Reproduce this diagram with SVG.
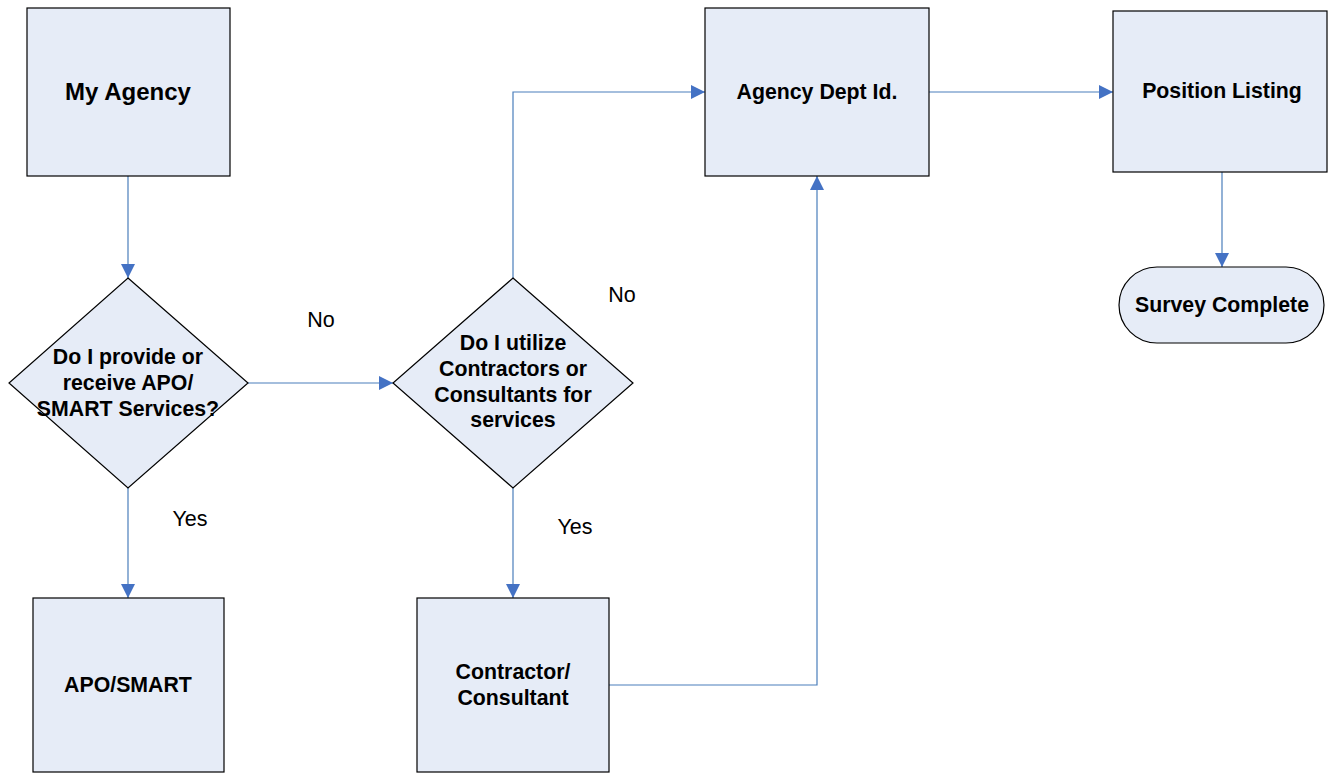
<svg xmlns="http://www.w3.org/2000/svg" width="1330" height="774" viewBox="0 0 1330 774">
<style>
.box{fill:#E6ECF7;stroke:#000;stroke-width:1.2}
.t{font-family:"Liberation Sans",Arial,sans-serif;font-weight:bold;font-size:21.3px;fill:#000;text-anchor:middle}
.l{font-family:"Liberation Sans",Arial,sans-serif;font-size:21.5px;fill:#000;text-anchor:middle}
.c{fill:none;stroke:#4A7EBB;stroke-width:1.2;marker-end:url(#ah)}
</style>
<defs>
<marker id="ah" viewBox="0 0 10 10" refX="10" refY="5" markerWidth="14" markerHeight="14" markerUnits="userSpaceOnUse" orient="auto">
<path d="M0,0 L10,5 L0,10 z" fill="#4472C4"/>
</marker>
</defs>
<rect width="1330" height="774" fill="#fff"/>
<g id="connectors">
<path class="c" d="M128,176 V278"/>
<path class="c" d="M248,383 H393"/>
<path class="c" d="M128,488 V598"/>
<path class="c" d="M513,278 V92 H705"/>
<path class="c" d="M513,488 V598"/>
<path class="c" d="M609,685 H817 V176"/>
<path class="c" d="M929,92 H1113"/>
<path class="c" d="M1222,172 V267"/>
</g>
<g id="labels">
<text class="l" x="321" y="327">No</text>
<text class="l" x="622" y="302">No</text>
<text class="l" x="190" y="526">Yes</text>
<text class="l" x="575" y="534">Yes</text>
</g>
<g id="my-agency">
<rect class="box" x="27" y="8" width="203" height="168"/>
<text class="t" x="128" y="100" style="font-size:24px">My Agency</text>
</g>
<g id="decision-apo">
<polygon class="box" points="128,278 248,383 128,488 9,383"/>
<text class="t" x="128" y="364">Do I provide or</text>
<text class="t" x="128" y="390">receive APO/</text>
<text class="t" x="128" y="416">SMART Services?</text>
</g>
<g id="decision-contractors">
<polygon class="box" points="513,278 633,383 513,488 393,383"/>
<text class="t" x="513" y="350">Do I utilize</text>
<text class="t" x="513" y="376">Contractors or</text>
<text class="t" x="513" y="402">Consultants for</text>
<text class="t" x="513" y="427">services</text>
</g>
<g id="agency-dept">
<rect class="box" x="705" y="8" width="224" height="168"/>
<text class="t" x="817" y="99">Agency Dept Id.</text>
</g>
<g id="position-listing">
<rect class="box" x="1113" y="11" width="214" height="161"/>
<text class="t" x="1222" y="98">Position Listing</text>
</g>
<g id="survey-complete">
<rect class="box" x="1119" y="267" width="205" height="76" rx="38" ry="38"/>
<text class="t" x="1222" y="312">Survey Complete</text>
</g>
<g id="apo-smart">
<rect class="box" x="33" y="598" width="191" height="174"/>
<text class="t" x="128" y="692">APO/SMART</text>
</g>
<g id="contractor-consultant">
<rect class="box" x="417" y="598" width="192" height="174"/>
<text class="t" x="513" y="679">Contractor/</text>
<text class="t" x="513" y="705">Consultant</text>
</g>
</svg>
